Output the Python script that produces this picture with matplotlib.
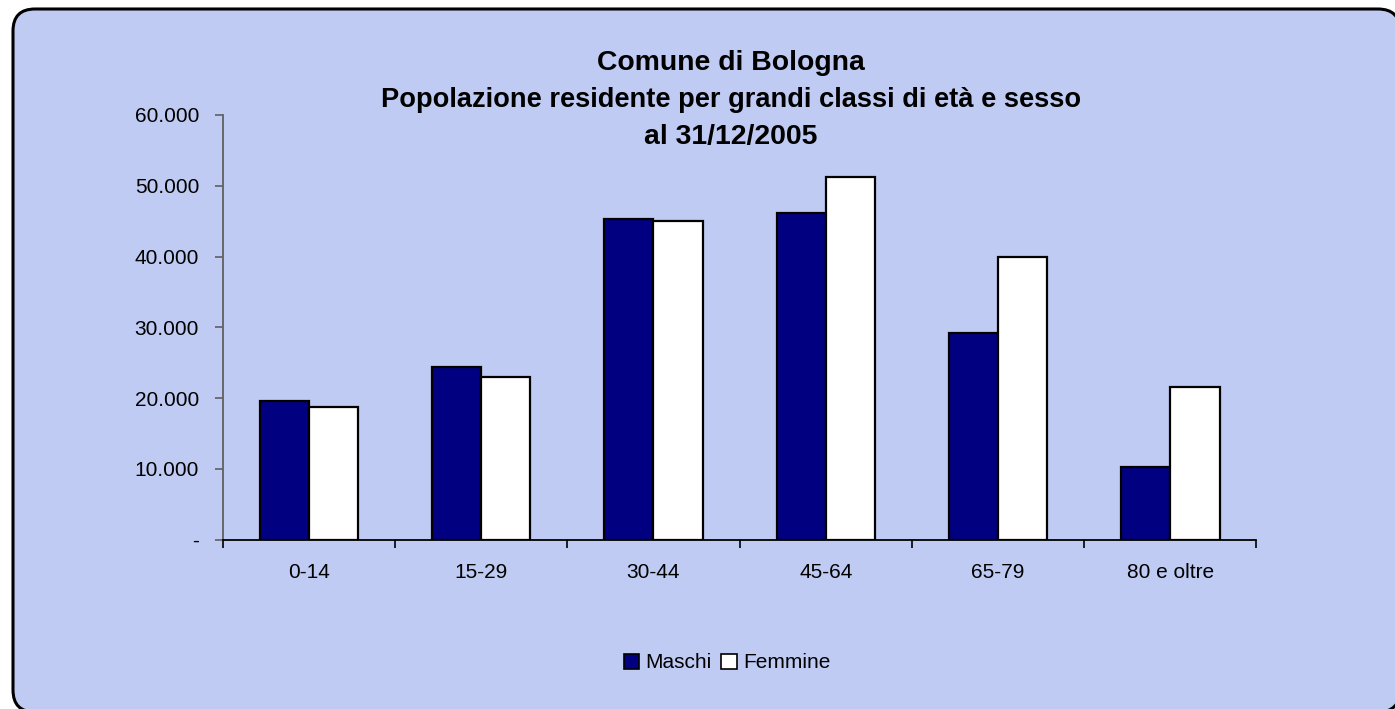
import matplotlib
matplotlib.use("Agg")
import matplotlib.pyplot as plt
import numpy as np
from matplotlib.patches import FancyBboxPatch, Patch
from matplotlib.ticker import FuncFormatter, MultipleLocator

plt.rcParams['font.family'] = ['Liberation Sans', 'DejaVu Sans']

categories = ["0-14", "15-29", "30-44", "45-64", "65-79", "80 e oltre"]
maschi = [19600, 24400, 45300, 46200, 29200, 10200]
femmine = [18700, 23000, 45000, 51200, 39900, 21500]
series_names = ["Maschi", "Femmine"]
title_lines = ["Comune di Bologna",
               "Popolazione residente per grandi classi di età e sesso",
               "al 31/12/2005"]

W, H = 1395, 709
fig = plt.figure(figsize=(W / 100, H / 100), dpi=100)
fig.patch.set_facecolor("white")

def fx(px):
    return px / W

def fy(py):
    return 1 - py / H

bg_color = "#bfcbf2"
# rounded chart border
border = FancyBboxPatch((fx(13), fy(712)), fx(1400) - fx(13), fy(9) - fy(712),
                        boxstyle="round,pad=0,rounding_size=%f" % (22 / W),
                        transform=fig.transFigure, facecolor=bg_color,
                        edgecolor="black", linewidth=2.2, zorder=-10,
                        mutation_aspect=W / H)
fig.patches.append(border)

ax_left, ax_right = 222.7, 1256.5
ax_top, ax_bottom = 115, 539.5
ax = fig.add_axes([fx(ax_left), fy(ax_bottom), fx(ax_right) - fx(ax_left),
                   fy(ax_top) - fy(ax_bottom)])
ax.set_zorder(5)
ax.set_facecolor("none")

x = np.arange(len(categories))
bw = 0.2857
ax.bar(x - bw / 2, maschi, width=bw, color="#000080", edgecolor="black",
       linewidth=1.6, zorder=3, label=series_names[0])
ax.bar(x + bw / 2, femmine, width=bw, color="white", edgecolor="black",
       linewidth=1.6, zorder=3, label=series_names[1])

ax.set_xlim(-0.5, len(categories) - 0.5)
ax.set_ylim(0, 60000)
ax.yaxis.set_major_locator(MultipleLocator(10000))

def fmt(v, pos):
    if abs(v) < 1e-9:
        return "-"
    return f"{int(round(v)):,}".replace(",", ".")

ax.yaxis.set_major_formatter(FuncFormatter(fmt))
ax.set_xticks(x)
ax.set_xticklabels(categories)
ax.set_xticks(np.arange(len(categories) + 1) - 0.5, minor=True)
ax.tick_params(axis="x", which="major", length=0, pad=17, labelsize=15)
ax.tick_params(axis="x", which="minor", length=6, width=1.2, color="black",
               direction="out")
ax.tick_params(axis="y", length=6, width=1.2, color="#606060", pad=11,
               labelsize=15)

for s in ["top", "right"]:
    ax.spines[s].set_visible(False)
ax.spines["left"].set_color("#606060")
ax.spines["left"].set_linewidth(1.3)
ax.spines["bottom"].set_color("black")
ax.spines["bottom"].set_linewidth(1.3)

# title lines
baselines = [70, 107, 144]
sizes = [20.4, 19.6, 20.4]
for line, b, s in zip(title_lines, baselines, sizes):
    fig.text(fx(731), fy(b), line, ha="center", va="baseline",
             fontsize=s, fontweight="bold", color="black")

handles = [Patch(facecolor="#000080", edgecolor="black", linewidth=1.2),
           Patch(facecolor="white", edgecolor="black", linewidth=1.2)]
fig.legend(handles, series_names, loc="center",
           bbox_to_anchor=(fx(727), fy(663)), ncol=2, frameon=False,
           fontsize=15, handlelength=0.75, handleheight=0.75,
           handletextpad=0.3, columnspacing=0.45, borderpad=0)

fig.savefig("out.png", dpi=100)
